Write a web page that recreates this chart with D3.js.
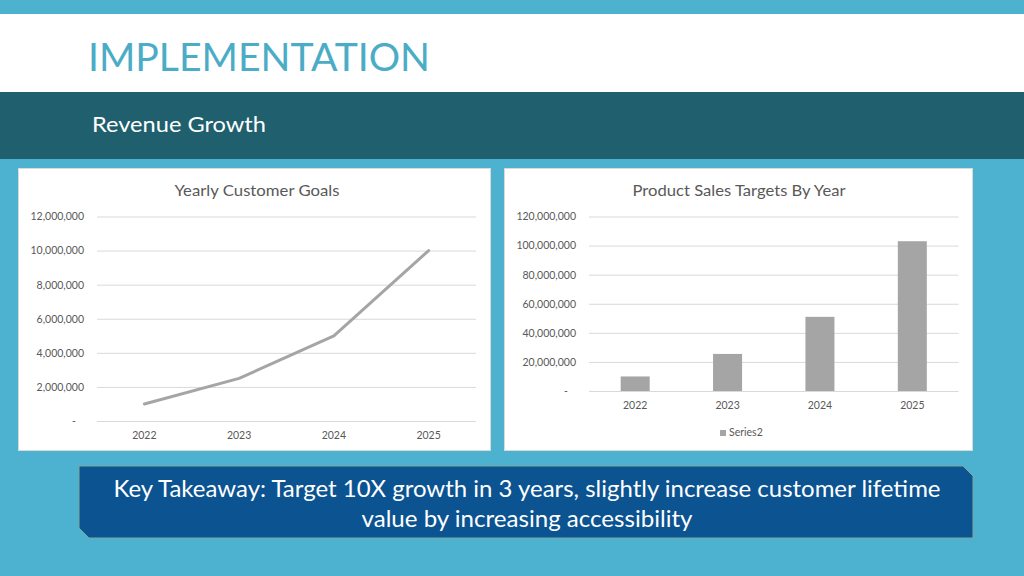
<!DOCTYPE html>
<html><head><meta charset="utf-8">
<script src="https://cdn.jsdelivr.net/npm/d3@7"></script>
<style>
html,body{margin:0;padding:0;background:#4DB1D0;}
svg{display:block;}
text{font-family:Lato,"Open Sans",sans-serif;}
</style></head>
<body>
<script>
const years = ["2022","2023","2024","2025"];
const customerGoals = [1000000, 2500000, 5000000, 10000000];
const salesTargets = [10000000, 25500000, 51000000, 103000000];
const customerTicks = [0, 2000000, 4000000, 6000000, 8000000, 10000000, 12000000];
const salesTicks = [0, 20000000, 40000000, 60000000, 80000000, 100000000, 120000000];
const slideTitle = "IMPLEMENTATION";
const slideSubtitle = "Revenue Growth";
const chart1Title = "Yearly Customer Goals";
const chart2Title = "Product Sales Targets By Year";
const legendLabel = "Series2";
const takeawayLines = ["Key Takeaway: Target 10X growth in 3 years, slightly increase customer lifetime", "value by increasing accessibility"];

const W = 1024, H = 576;
const svg = d3.select("body").append("svg").attr("width", W).attr("height", H);
svg.append("rect").attr("width", W).attr("height", H).attr("fill", "#4DB1D0");
svg.append("rect").attr("x", 0).attr("y", 14).attr("width", W).attr("height", 78).attr("fill", "#FFFFFF");
svg.append("rect").attr("x", 0).attr("y", 92).attr("width", W).attr("height", 67).attr("fill", "#1F5F6E");

svg.append("text").attr("x", 88).attr("y", 71).text(slideTitle)
  .attr("font-size", 38).attr("font-weight", 400).attr("fill", "#4BACC6")
  .attr("textLength", 342).attr("lengthAdjust", "spacingAndGlyphs");
svg.append("text").attr("x", 92).attr("y", 132).text(slideSubtitle)
  .attr("font-size", 22).attr("fill", "#FFFFFF")
  .attr("textLength", 174).attr("lengthAdjust", "spacingAndGlyphs");

const fmt = v => v === 0 ? "-" : d3.format(",")(v);
const axisColor = "#595959";

// Panel 1: line chart
svg.append("rect").attr("x", 18.5).attr("y", 168.5).attr("width", 472).attr("height", 282)
  .attr("fill", "#FFFFFF").attr("stroke", "#D9D9D9");
svg.append("text").attr("x", 257).attr("y", 196).attr("text-anchor", "middle").text(chart1Title)
  .attr("font-size", 16).attr("fill", axisColor)
  .attr("textLength", 165).attr("lengthAdjust", "spacingAndGlyphs");

const x1 = d3.scaleBand().domain(years).range([97, 476]);
const y1 = d3.scaleLinear().domain([0, 12000000]).range([421, 216.5]);
const g1 = svg.append("g");
const ya1 = d3.axisLeft(y1).tickValues(customerTicks).tickFormat(fmt).tickSize(-(476 - 97)).tickPadding(13);
g1.append("g").attr("transform", "translate(97,0)").call(ya1)
  .call(g => g.select(".domain").remove())
  .call(g => g.selectAll(".tick line").attr("stroke", "#D9D9D9"))
  .call(g => g.selectAll(".tick text").attr("fill", axisColor).attr("font-size", 10.5)
     .attr("dx", d => d === 0 ? -8 : 0));
const xa1 = d3.axisBottom(x1).tickSize(0).tickPadding(11);
g1.append("g").attr("transform", "translate(0,421)").call(xa1)
  .call(g => g.select(".domain").remove())
  .call(g => g.selectAll(".tick text").attr("fill", axisColor).attr("font-size", 10.5));
const line = d3.line().x((d, i) => x1(years[i]) + x1.bandwidth() / 2).y(d => y1(d));
g1.append("path").datum(customerGoals).attr("d", line).attr("fill", "none")
  .attr("stroke", "#A5A5A5").attr("stroke-width", 3).attr("stroke-linecap", "round").attr("stroke-linejoin", "round");

// Panel 2: bar chart
svg.append("rect").attr("x", 504.5).attr("y", 168.5).attr("width", 468).attr("height", 282)
  .attr("fill", "#FFFFFF").attr("stroke", "#D9D9D9");
svg.append("text").attr("x", 739).attr("y", 196).attr("text-anchor", "middle").text(chart2Title)
  .attr("font-size", 16).attr("fill", axisColor)
  .attr("textLength", 213).attr("lengthAdjust", "spacingAndGlyphs");

const x2 = d3.scaleBand().domain(years).range([589, 958.5]).paddingInner(0.686).paddingOuter(0.343);
const y2 = d3.scaleLinear().domain([0, 120000000]).range([391, 216.5]);
const g2 = svg.append("g");
const ya2 = d3.axisLeft(y2).tickValues(salesTicks).tickFormat(fmt).tickSize(-(958.5 - 589)).tickPadding(13);
g2.append("g").attr("transform", "translate(589,0)").call(ya2)
  .call(g => g.select(".domain").remove())
  .call(g => g.selectAll(".tick line").attr("stroke", "#D9D9D9"))
  .call(g => g.selectAll(".tick text").attr("fill", axisColor).attr("font-size", 10.5)
     .attr("dx", d => d === 0 ? -8 : 0));
g2.selectAll("rect.bar").data(salesTargets).enter().append("rect").attr("class", "bar")
  .attr("x", (d, i) => x2(years[i])).attr("width", x2.bandwidth())
  .attr("y", d => y2(d)).attr("height", d => y2(0) - y2(d)).attr("fill", "#A5A5A5");
const xa2 = d3.axisBottom(x2).tickSize(0).tickPadding(11);
g2.append("g").attr("transform", "translate(0,391)").call(xa2)
  .call(g => g.select(".domain").remove())
  .call(g => g.selectAll(".tick text").attr("fill", axisColor).attr("font-size", 10.5));
svg.append("rect").attr("x", 720).attr("y", 430).attr("width", 6).attr("height", 6).attr("fill", "#A5A5A5");
svg.append("text").attr("x", 729).attr("y", 436).text(legendLabel).attr("font-size", 10.5).attr("fill", axisColor);

// Takeaway box
const bx0 = 79, bx1 = 973, by0 = 466, by1 = 538, c = 10;
svg.append("path")
  .attr("d", `M${bx0},${by0} L${bx1 - c},${by0} L${bx1},${by0 + c} L${bx1},${by1} L${bx0 + c},${by1} L${bx0},${by1 - c} Z`)
  .attr("fill", "#0B5391").attr("stroke", "#7FA99B").attr("stroke-width", 1);
const lens = [827, 331];
svg.selectAll("text.take").data(takeawayLines).enter().append("text").attr("class", "take")
  .attr("x", 527).attr("y", (d, i) => 497 + i * 30).attr("text-anchor", "middle")
  .text(d => d).attr("font-size", 23).attr("fill", "#FFFFFF")
  .attr("textLength", (d, i) => lens[i]).attr("lengthAdjust", "spacingAndGlyphs");
</script>
</body></html>
